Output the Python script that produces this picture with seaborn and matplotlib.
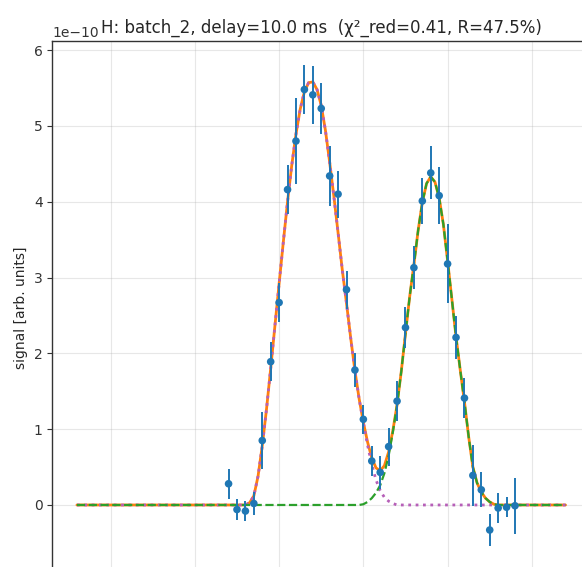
import numpy as np
import pandas as pd
import matplotlib
matplotlib.use("Agg")
import matplotlib.pyplot as plt
import seaborn as sns

# ---------------- data (signal in units of 1e-10) ----------------
x_data = [1.4, 1.5, 1.6, 1.7, 1.8, 1.9, 2.0, 2.1, 2.2, 2.3, 2.4, 2.5, 2.6, 2.7,
          2.8, 2.9, 3.0, 3.1, 3.2, 3.3, 3.4, 3.5, 3.6, 3.7, 3.8, 3.9, 4.0, 4.1,
          4.2, 4.3, 4.4, 4.5, 4.6, 4.7, 4.8]
y_data = [0.28, -0.06, -0.08, 0.02, 0.85, 1.89, 2.67, 4.16, 4.80, 5.48, 5.41,
          5.23, 4.34, 4.10, 2.84, 1.78, 1.13, 0.58, 0.43, 0.77, 1.37, 2.34,
          3.13, 4.01, 4.38, 4.08, 3.18, 2.21, 1.41, 0.39, 0.20, -0.33, -0.04,
          -0.03, -0.01]
y_err = [0.20, 0.14, 0.13, 0.15, 0.37, 0.26, 0.26, 0.32, 0.57, 0.32, 0.38,
         0.34, 0.40, 0.31, 0.25, 0.22, 0.19, 0.20, 0.22, 0.25, 0.26, 0.27,
         0.28, 0.30, 0.35, 0.38, 0.52, 0.28, 0.26, 0.40, 0.23, 0.21, 0.20,
         0.13, 0.37]

# fitted model (first and last entries are the flat ends)
fit_x = [-0.40,
         1.55, 1.60, 1.65, 1.70, 1.75, 1.80, 1.85, 1.90, 1.95, 2.00,
         2.05, 2.10, 2.15, 2.20, 2.25, 2.30, 2.35, 2.40, 2.45, 2.50,
         2.55, 2.60, 2.65, 2.70, 2.75, 2.80, 2.85, 2.90, 2.95, 3.00,
         3.05, 3.10, 3.15, 3.20, 3.25, 3.30, 3.35, 3.40, 3.45, 3.50,
         3.55, 3.60, 3.65, 3.70, 3.75, 3.80, 3.85, 3.90, 3.95, 4.00,
         4.05, 4.10, 4.15, 4.20, 4.25, 4.30, 4.35, 4.40, 4.45, 4.50,
         4.55, 4.60,
         5.40]
peak1 = [0.0,
         0.00, 0.00, 0.03, 0.12, 0.38, 0.78, 1.26, 1.80, 2.36, 2.92,
         3.47, 4.00, 4.48, 4.89, 5.22, 5.45, 5.57, 5.58, 5.48, 5.27,
         4.94, 4.52, 4.07, 3.59, 3.10, 2.66, 2.20, 1.77, 1.40, 1.08,
         0.79, 0.53, 0.33, 0.19, 0.10, 0.05, 0.02, 0.00, 0.00, 0.00,
         0.00, 0.00, 0.00, 0.00, 0.00, 0.00, 0.00, 0.00, 0.00, 0.00,
         0.00, 0.00, 0.00, 0.00, 0.00, 0.00, 0.00, 0.00, 0.00, 0.00,
         0.00, 0.00,
         0.0]
peak2 = [0.0,
         0.00, 0.00, 0.00, 0.00, 0.00, 0.00, 0.00, 0.00, 0.00, 0.00,
         0.00, 0.00, 0.00, 0.00, 0.00, 0.00, 0.00, 0.00, 0.00, 0.00,
         0.00, 0.00, 0.00, 0.00, 0.00, 0.00, 0.00, 0.00, 0.00, 0.01,
         0.04, 0.09, 0.16, 0.26, 0.42, 0.65, 0.96, 1.32, 1.76, 2.26,
         2.75, 3.17, 3.62, 3.99, 4.24, 4.33, 4.26, 4.05, 3.70, 3.22,
         2.72, 2.22, 1.78, 1.36, 0.90, 0.50, 0.29, 0.17, 0.09, 0.04,
         0.01, 0.00,
         0.0]

x_ticks = [0, 1, 2, 3, 4, 5]
y_ticks = [0, 1, 2, 3, 4, 5, 6]
SCALE = 1e-10
title = "H: batch_2, delay=10.0 ms  (χ²_red=0.41, R=47.5%)"
ylabel = "signal [arb. units]"

# ---------------- build frames ----------------
data = pd.DataFrame({"x": x_data,
                     "y": np.array(y_data) * SCALE,
                     "err": np.array(y_err) * SCALE})
fit = pd.DataFrame({"x": fit_x,
                    "p1": np.array(peak1) * SCALE,
                    "p2": np.array(peak2) * SCALE})
fit["total"] = fit["p1"] + fit["p2"]

# ---------------- style ----------------
sns.set_style("ticks")
plt.rcParams.update({
    "font.family": ["DejaVu Sans"],
    "font.size": 10,
    "axes.edgecolor": "#333333",
    "axes.linewidth": 1.0,
    "xtick.color": "#333333",
    "ytick.color": "#333333",
    "xtick.major.size": 3.5,
    "ytick.major.size": 3.5,
    "xtick.labelsize": 10,
    "ytick.labelsize": 10,
})

fig = plt.figure(figsize=(5.82, 5.67), dpi=100)
# axes run past the right and bottom edges of the saved picture (cropped view)
ax = fig.add_axes([0.0902, -0.0123, 0.9235, 0.9400])

sns.lineplot(data=fit, x="x", y="total", ax=ax, color="#ff7f0e", lw=2.0,
             sort=False, estimator=None, zorder=2)
sns.lineplot(data=fit, x="x", y="p1", ax=ax, color="#b65fb8", lw=2.0,
             linestyle=":", sort=False, estimator=None, zorder=3)
sns.lineplot(data=fit, x="x", y="p2", ax=ax, color="#2ca02c", lw=1.6,
             linestyle="--", sort=False, estimator=None, zorder=4)

ax.errorbar(data["x"], data["y"], yerr=data["err"], fmt="none",
            ecolor="#1f77b4", elinewidth=1.4, capsize=0, zorder=5)
sns.scatterplot(data=data, x="x", y="y", ax=ax, color="#1f77b4", s=30,
                edgecolor="none", linewidth=0, zorder=6)

ax.set_xlim(-0.69, 5.69)
ax.set_ylim(-0.91e-10, 6.12e-10)
ax.set_xticks(x_ticks)
ax.set_yticks(np.array(y_ticks) * SCALE)
ax.grid(True, color="#b0b0b0", alpha=0.3, lw=0.8)
ax.set_axisbelow(True)
ax.set_xlabel("")
ax.set_ylabel(ylabel, fontsize=10)
ax.set_title(title, fontsize=12)
for s in ax.spines.values():
    s.set_visible(True)

fig.savefig("out.png", dpi=100)
